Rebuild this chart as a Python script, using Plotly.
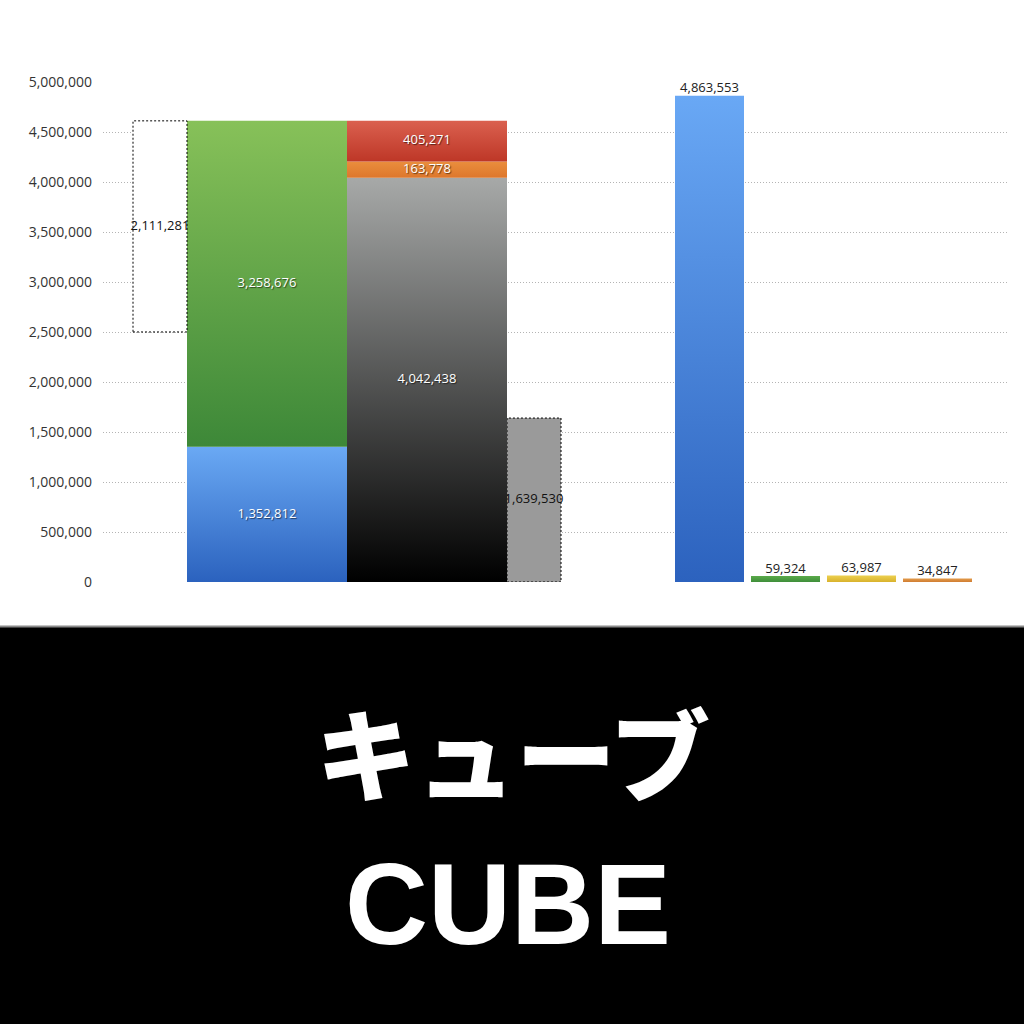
import plotly.graph_objects as go

# --- data ---
left_stack = [1352812, 3258676]            # blue, green
right_stack = [4042438, 163778, 405271]    # black, orange, red
gap_value = 2111281                        # dotted floating box
rest_value = 1639530                       # dotted grey bar
side_values = [4863553, 59324, 63987, 34847]

y_ticks = [0, 500000, 1000000, 1500000, 2000000, 2500000,
           3000000, 3500000, 4000000, 4500000, 5000000]

title_jp = "キューブ"
title_en = "CUBE"

# --- styles (gradient bottom -> top) ---
left_colors = [("#2b62be", "#6aa9f4"), ("#3d8838", "#87c159")]
right_colors = [("#000000", "#a7a9a8"), ("#dd772c", "#ea8e3d"), ("#be3727", "#da604f")]
side_colors = [("#2c62be", "#69a8f5"), ("#3f8e3a", "#5aaa4a"),
               ("#d9b22c", "#ecd04f"), ("#d07d32", "#e29a4a")]

FONT = "Open Sans"
SHADOW = "1px 1px 1px rgba(0,0,0,0.55)"

fig = go.Figure()


def add_block(xc, w, base, value, colors=None, fill=None, dotted=False):
    x0, x1 = xc - w / 2, xc + w / 2
    xs = [x0, x1, x1, x0, x0]
    ys = [base, base, base + value, base + value, base]
    kw = dict(x=xs, y=ys, mode="lines", fill="toself", hoverinfo="skip",
              showlegend=False)
    if colors:
        kw["fillgradient"] = dict(type="vertical",
                                  colorscale=[[0, colors[0]], [1, colors[1]]])
    else:
        kw["fillcolor"] = fill
    if dotted:
        kw["line"] = dict(color="black", width=1, dash="2px,2px")
    else:
        kw["line"] = dict(width=0)
    fig.add_trace(go.Scatter(**kw))


def add_label(xc, y, value, color, pos="middle center", shadow=None):
    fig.add_trace(go.Scatter(
        x=[xc], y=[y], mode="text", text=[f"{value:,}"], textposition=pos,
        textfont=dict(family=FONT, size=13, color=color,
                      shadow=shadow if shadow else "none"),
        hoverinfo="skip", showlegend=False))


# dotted grey bar first so the black column covers the start of its label
add_block(534, 54, 0, rest_value, fill="#9a9a9a", dotted=True)
add_label(534, rest_value / 2, rest_value, "#111111")

# left stacked column
base = 0
for v, c in zip(left_stack, left_colors):
    add_block(267, 160, base, v, colors=c)
    add_label(267, base + v / 2, v, "white", shadow=SHADOW)
    base += v
left_total = base

# right stacked column
base = 0
for v, c in zip(right_stack, right_colors):
    add_block(427, 160, base, v, colors=c)
    add_label(427, base + v / 2, v, "white", shadow=SHADOW)
    base += v

# floating dotted box hanging from the top of the left column
gap_base = left_total - gap_value
add_block(160, 54, gap_base, gap_value, fill="white", dotted=True)
add_label(160, gap_base + gap_value / 2, gap_value, "#111111")

# separate columns on the right
for xc, v, c in zip([709.5, 785.5, 861.5, 937.5], side_values, side_colors):
    add_block(xc, 69, 0, v, colors=c)
    add_label(xc, v, v, "#222222", pos="top center")

# black banner with title
fig.add_shape(type="rect", xref="paper", yref="paper",
              x0=-0.2, x1=1.2, y0=-0.9, y1=-0.09,
              fillcolor="black", line=dict(width=0), layer="above")
fig.add_shape(type="line", xref="paper", yref="paper",
              x0=-0.2, x1=1.2, y0=-0.089, y1=-0.089,
              line=dict(color="#8a8a8a", width=2), layer="above")
fig.add_annotation(xref="paper", yref="paper", x=0.4535, y=-0.336,
                   text=title_jp, showarrow=False, xanchor="center", yanchor="middle",
                   font=dict(family="Noto Sans CJK JP", size=100, color="white",
                             weight=900))
fig.add_annotation(xref="paper", yref="paper", x=0.4475, y=-0.644,
                   text=title_en, showarrow=False, xanchor="center", yanchor="middle",
                   font=dict(family="Liberation Sans", size=115, color="white",
                             weight=700))

fig.update_layout(
    width=1024, height=1024,
    margin=dict(l=103, r=17, t=82, b=442),
    plot_bgcolor="white", paper_bgcolor="white",
    font=dict(family=FONT, size=13, color="#333333"),
    showlegend=False,
    xaxis=dict(range=[103, 1007], visible=False, fixedrange=True),
    yaxis=dict(range=[0, 5000000], tickvals=y_ticks,
               ticktext=[f"{t:,}" for t in y_ticks],
               showgrid=True, gridcolor="#b4b4b4", griddash="1px,2px", gridwidth=1,
               zeroline=False, showline=False, ticks="",
               ticklabelstandoff=10, fixedrange=True,
               tickfont=dict(family=FONT, size=14, color="#333333")),
)

# page body margin off, so the 1024px figure sits flush in the window
fig.write_html("out.html", config={"displayModeBar": False},
               post_script="document.body.style.margin='0';")
